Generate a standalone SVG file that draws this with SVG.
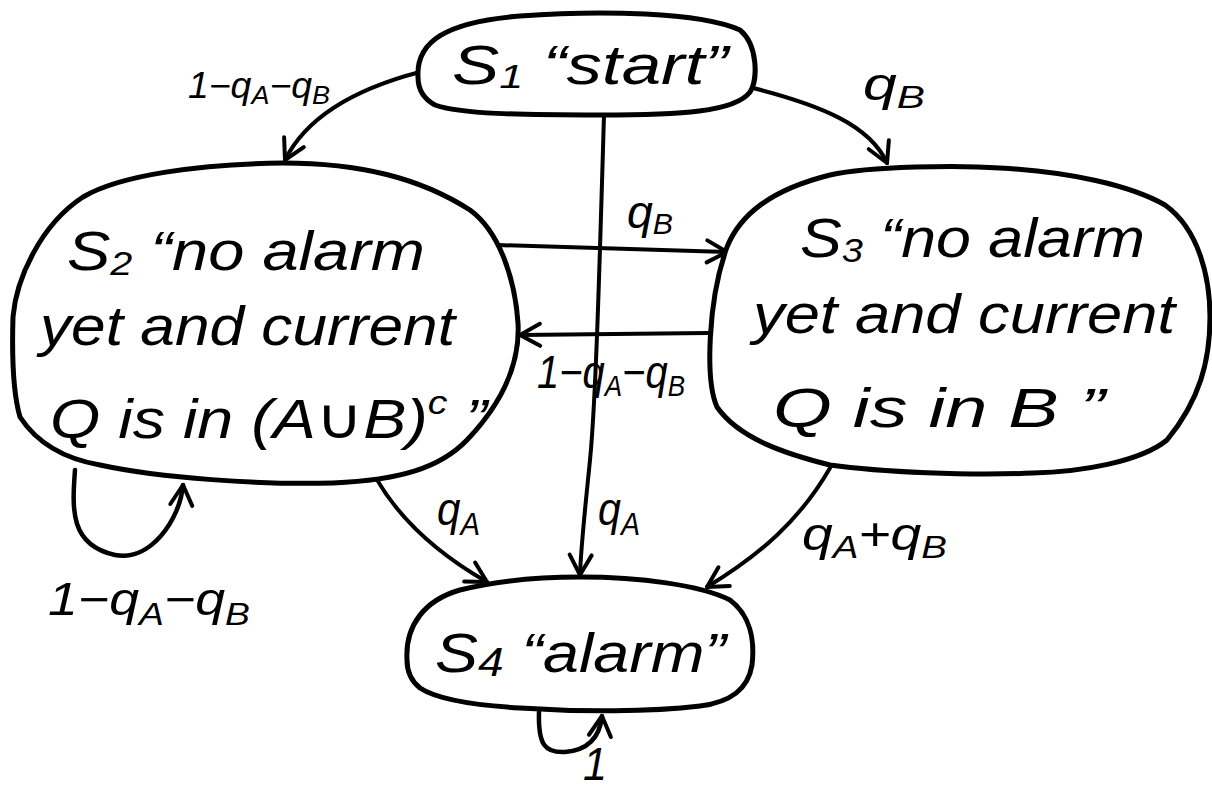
<svg xmlns="http://www.w3.org/2000/svg" width="1212" height="786" viewBox="0 0 1212 786">
<style>
.node{fill:#fff;stroke:#000;stroke-width:5;stroke-linejoin:round}
.edge{fill:none;stroke:#000;stroke-width:4;stroke-linecap:round;marker-end:url(#ah)}
.loop{fill:none;stroke:#000;stroke-width:4.5;stroke-linecap:round;marker-end:url(#ah)}
.t{font-family:"Liberation Sans","DejaVu Sans",sans-serif;font-style:italic;fill:#000}
.big{font-size:56px}
.lbl{font-size:46px}
.sm{font-size:36px}
</style>
<defs>
<marker id="ah" viewBox="-24 -14 28 28" refX="0" refY="0" markerWidth="28" markerHeight="28" markerUnits="userSpaceOnUse" orient="auto">
<path d="M-20,-11 L0,0 L-20,11" fill="none" stroke="#000" stroke-width="4" stroke-linecap="round" stroke-linejoin="round"/>
</marker>
</defs>
<rect width="1212" height="786" fill="#fff"/>

<g id="connectors">
<path class="edge" d="M420,72 C370,85 310,110 285,160"/>
<path class="edge" d="M753,88 C820,105 870,125 887,163"/>
<path class="edge" d="M604,115 C600,250 596,400 590,460 C585,510 581,545 580,575"/>
<path class="edge" d="M497,245 L727,252"/>
<path class="edge" d="M708,333 L520,335"/>
<path class="loop" d="M75,470 C72,510 70,545 115,555 C150,562 180,520 183,485"/>
<path class="edge" d="M376,478 C400,520 440,555 487,582"/>
<path class="edge" d="M830,468 C800,520 760,555 707,587"/>
<path class="loop" d="M539,712 C538,745 545,753 565,752 C590,750 600,735 602,716"/>
</g>

<g id="S1">
<path class="node" d="M418,77 C416,42 445,22 520,16 C600,10 700,12 740,30 C758,45 758,80 750,92 C735,112 680,115 600,115 C520,115 460,114 435,105 C422,98 418,88 418,77 Z"/>
<text class="t big" x="452" y="84" textLength="276" lengthAdjust="spacingAndGlyphs">S<tspan font-size="34" dy="4">1</tspan><tspan dy="-4">  “start”</tspan></text>
</g>

<g id="S2">
<path class="node" d="M83,197 C120,175 200,164 283,163 C360,163 420,178 470,210 C500,232 515,280 518,323 C520,360 505,400 467,440 C440,468 400,480 333,483 C260,485 160,478 100,465 C60,458 35,440 20,417 C12,390 12,350 13,317 C16,280 40,225 83,197 Z"/>
<text class="t big" x="67" y="270" textLength="358" lengthAdjust="spacingAndGlyphs">S<tspan font-size="34" dy="5">2</tspan><tspan dy="-5"> “no alarm</tspan></text>
<text class="t big" x="40" y="345" textLength="415" lengthAdjust="spacingAndGlyphs">yet and current</text>
<text class="t big" x="50" y="438" textLength="437" lengthAdjust="spacingAndGlyphs">Q is in (A∪B)<tspan font-size="34" dy="-24">c</tspan><tspan dy="24">  ”</tspan></text>
</g>

<g id="S3">
<path class="node" d="M727,247 C740,215 770,190 830,175 C870,166 960,165 1000,168 C1070,172 1130,185 1165,205 C1200,230 1210,280 1210,317 C1210,360 1200,400 1167,440 C1140,462 1080,472 1033,473 C970,476 880,472 830,465 C790,455 740,440 717,407 C705,380 708,300 727,247 Z"/>
<text class="t big" x="800" y="257" textLength="345" lengthAdjust="spacingAndGlyphs">S<tspan font-size="34" dy="5">3</tspan><tspan dy="-5"> “no alarm</tspan></text>
<text class="t big" x="753" y="333" textLength="422" lengthAdjust="spacingAndGlyphs">yet and current</text>
<text class="t big" x="773" y="427" textLength="332" lengthAdjust="spacingAndGlyphs">Q is in B ”</text>
</g>

<g id="S4">
<path class="node" d="M407,660 C405,625 425,600 460,590 C500,580 540,577 580,577 C640,577 700,585 730,600 C750,615 755,640 752,665 C748,690 730,702 700,706 C650,712 580,712 520,708 C470,705 435,698 420,688 C410,680 407,670 407,660 Z"/>
<text class="t big" x="435" y="672" textLength="291" lengthAdjust="spacingAndGlyphs">S<tspan font-size="40" dy="4">4</tspan><tspan dy="-4">  “alarm”</tspan></text>
</g>

<g id="labels">
<text class="t sm" x="188" y="98" textLength="142" lengthAdjust="spacingAndGlyphs">1−q<tspan font-size="26" dy="6">A</tspan><tspan dy="-6">−q</tspan><tspan font-size="26" dy="6">B</tspan></text>
<text class="t lbl" x="863" y="100" textLength="62" lengthAdjust="spacingAndGlyphs">q<tspan font-size="32" dy="8">B</tspan></text>
<text class="t lbl" x="627" y="228" textLength="46" lengthAdjust="spacingAndGlyphs">q<tspan font-size="30" dy="6">B</tspan></text>
<text class="t lbl" x="537" y="388" textLength="148" lengthAdjust="spacingAndGlyphs">1−q<tspan font-size="30" dy="8">A</tspan><tspan dy="-8">−q</tspan><tspan font-size="30" dy="8">B</tspan></text>
<text class="t lbl" x="437" y="525" textLength="43" lengthAdjust="spacingAndGlyphs">q<tspan font-size="32" dy="10">A</tspan></text>
<text class="t lbl" x="598" y="525" textLength="42" lengthAdjust="spacingAndGlyphs">q<tspan font-size="32" dy="10">A</tspan></text>
<text class="t lbl" x="802" y="550" textLength="145" lengthAdjust="spacingAndGlyphs">q<tspan font-size="32" dy="8">A</tspan><tspan dy="-8">+q</tspan><tspan font-size="32" dy="8">B</tspan></text>
<text class="t lbl" x="48" y="615" textLength="202" lengthAdjust="spacingAndGlyphs">1−q<tspan font-size="32" dy="10">A</tspan><tspan dy="-10">−q</tspan><tspan font-size="32" dy="10">B</tspan></text>
<text class="t lbl" x="583" y="780" textLength="24" lengthAdjust="spacingAndGlyphs">1</text>
</g>
</svg>
